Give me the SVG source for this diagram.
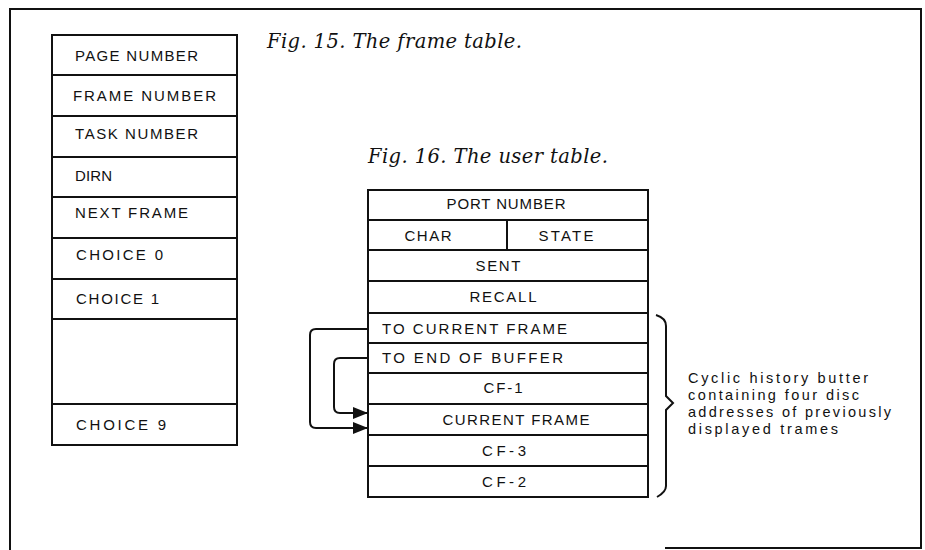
<svg xmlns="http://www.w3.org/2000/svg" width="925" height="550" viewBox="0 0 925 550">
<defs>
<marker id="arr" markerUnits="userSpaceOnUse" markerWidth="16" markerHeight="12" refX="15" refY="6" orient="auto">
<path d="M0,0 L15,6 L0,12 Z" fill="#111"/>
</marker>
<style>
.box{fill:#fff;stroke:#111;stroke-width:2}
.ln{stroke:#111;stroke-width:2;fill:none}
.t{font-family:"Liberation Sans","DejaVu Sans",sans-serif;font-size:15px;fill:#111}
.c{text-anchor:middle}
.cap{font-family:"DejaVu Serif","Liberation Serif",serif;font-style:italic;font-size:19.5px;fill:#111}
.note{font-family:"Liberation Sans","DejaVu Sans",sans-serif;font-size:14.5px;fill:#111}
.conn{stroke:#111;stroke-width:2;fill:none}
</style>
</defs>
<rect width="925" height="550" fill="#fff"/>
<g id="border">
<path class="ln" d="M10,550 V9 H921 V549"/>
<path class="ln" d="M665,548 H921"/>
</g>
<g id="caption15"><text class="cap" x="267" y="48" textLength="255" lengthAdjust="spacing">Fig. 15. The frame table.</text></g>
<g id="caption16"><text class="cap" x="368" y="163" textLength="240" lengthAdjust="spacing">Fig. 16. The user table.</text></g>

<g id="frame-table">
<rect class="box" x="52" y="35" width="185" height="410"/>
<path class="ln" d="M52,75 H237 M52,116 H237 M52,157 H237 M52,197 H237 M52,238 H237 M52,279 H237 M52,319 H237 M52,404 H237"/>
<g id="ft-page"><text class="t" x="75" y="61" textLength="123" lengthAdjust="spacing">PAGE NUMBER</text></g>
<g id="ft-frame"><text class="t" x="73" y="101" textLength="143" lengthAdjust="spacing">FRAME NUMBER</text></g>
<g id="ft-task"><text class="t" x="75" y="139" textLength="123" lengthAdjust="spacing">TASK NUMBER</text></g>
<g id="ft-dirn"><text class="t" x="75" y="181" textLength="37" lengthAdjust="spacing">DIRN</text></g>
<g id="ft-next"><text class="t" x="75" y="218" textLength="113" lengthAdjust="spacing">NEXT FRAME</text></g>
<g id="ft-choice0"><text class="t" x="76" y="260" textLength="87" lengthAdjust="spacing">CHOICE 0</text></g>
<g id="ft-choice1"><text class="t" x="76" y="304" textLength="83" lengthAdjust="spacing">CHOICE 1</text></g>
<g id="ft-blank"></g>
<g id="ft-choice9"><text class="t" x="76" y="430" textLength="90" lengthAdjust="spacing">CHOICE 9</text></g>
</g>

<g id="user-table">
<rect class="box" x="368" y="190" width="280" height="307"/>
<path class="ln" d="M368,220 H648 M368,250 H648 M368,281 H648 M368,313 H648 M368,343 H648 M368,373 H648 M368,404 H648 M368,435 H648 M368,466 H648 M507,220 V250"/>
<g id="ut-port"><text class="t c" x="506" y="209" textLength="119" lengthAdjust="spacing">PORT NUMBER</text></g>
<g id="ut-char"><text class="t c" x="428" y="241" textLength="47" lengthAdjust="spacing">CHAR</text></g>
<g id="ut-state"><text class="t c" x="566" y="241" textLength="55" lengthAdjust="spacing">STATE</text></g>
<g id="ut-sent"><text class="t c" x="498" y="271" textLength="45" lengthAdjust="spacing">SENT</text></g>
<g id="ut-recall"><text class="t c" x="503" y="302" textLength="67" lengthAdjust="spacing">RECALL</text></g>
<g id="ut-tocur"><text class="t" x="382" y="334" textLength="185" lengthAdjust="spacing">TO CURRENT FRAME</text></g>
<g id="ut-toend"><text class="t" x="382" y="363" textLength="181" lengthAdjust="spacing">TO END OF BUFFER</text></g>
<g id="ut-cf1"><text class="t c" x="503" y="393" textLength="39" lengthAdjust="spacing">CF-1</text></g>
<g id="ut-cur"><text class="t c" x="516" y="425" textLength="147" lengthAdjust="spacing">CURRENT FRAME</text></g>
<g id="ut-cf3"><text class="t c" x="504" y="456" textLength="44" lengthAdjust="spacing">CF-3</text></g>
<g id="ut-cf2"><text class="t c" x="504" y="487" textLength="44" lengthAdjust="spacing">CF-2</text></g>
</g>

<g id="connectors">
<path class="conn" d="M368,329 H316 Q310,329 310,335 V422 Q310,428 316,428 H368" marker-end="url(#arr)"/>
<path class="conn" d="M368,358 H340 Q334,358 334,364 V407 Q334,413 340,413 H368" marker-end="url(#arr)"/>
</g>

<g id="brace">
<path class="ln" stroke-width="1.6" d="M656,315 Q666,318 666,326 V396 L673,403 L666,410 V486 Q666,492 657,497"/>
</g>
<g id="note">
<text class="note" x="688" y="383" textLength="180" lengthAdjust="spacing">Cyclic history butter</text>
<text class="note" x="688" y="400" textLength="171" lengthAdjust="spacing">containing four disc</text>
<text class="note" x="688" y="417" textLength="203" lengthAdjust="spacing">addresses of previously</text>
<text class="note" x="688" y="434" textLength="150" lengthAdjust="spacing">displayed trames</text>
</g>
</svg>
